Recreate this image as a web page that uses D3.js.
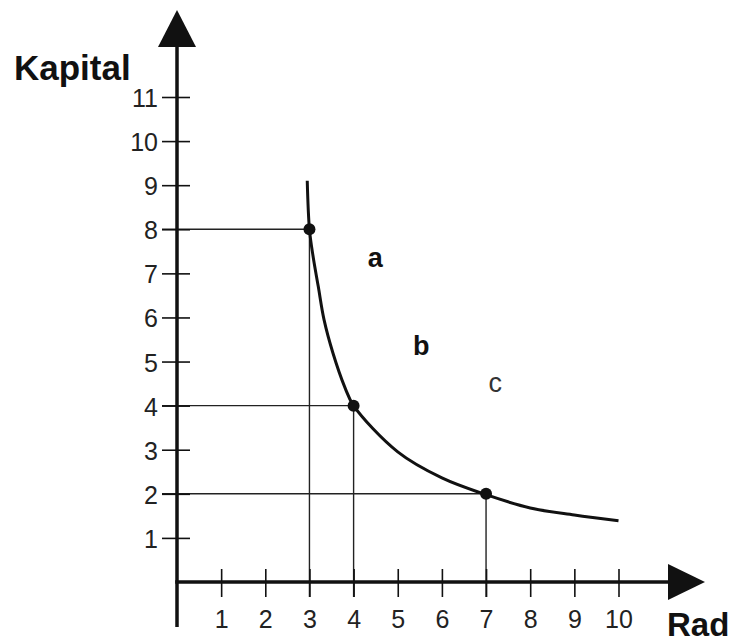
<!DOCTYPE html>
<html>
<head>
<meta charset="utf-8">
<script src="https://cdn.jsdelivr.net/npm/d3@7"></script>
<style>
  html, body { margin: 0; padding: 0; background: #fff; }
  svg { display: block; font-family: "Liberation Sans", Arial, sans-serif; }
</style>
</head>
<body>
<svg id="chart" width="737" height="644"></svg>
<script>
// tick labels
var xTicks = [1, 2, 3, 4, 5, 6, 7, 8, 9, 10];
var yTicks = [1, 2, 3, 4, 5, 6, 7, 8, 9, 10, 11];

// isoquant curve (Rad, Kapital)
var curveRad     = [2.95, 3.0, 3.08, 3.2, 3.33, 3.53, 3.8, 4.0, 5.0, 6.0, 7.0, 8.0, 9.0, 10.0];
var curveKapital = [9.1, 8.0, 7.4, 6.7, 5.95, 5.2, 4.42, 4.0, 2.95, 2.36, 1.98, 1.68, 1.52, 1.39];

// marked combinations
var pointRad     = [3, 4, 7];
var pointKapital = [8, 4, 2];

// letters in the plot
var letterText    = ['a', 'b', 'c'];
var letterRad     = [4.49, 5.53, 7.21];
var letterKapital = [7.14, 5.14, 4.32];

var svg = d3.select('#chart');

var x = d3.scaleLinear().domain([0, 10]).range([177, 618.5]);
var y = d3.scaleLinear().domain([0, 11]).range([582, 97]);

var ink = '#111';

// guide lines from the axes to each point
var guides = svg.append('g');
pointRad.forEach(function(r, i){
    guides.append('line')
        .attr('x1', x(0) - 15).attr('x2', x(r))
        .attr('y1', y(pointKapital[i])).attr('y2', y(pointKapital[i]))
        .style('stroke', '#222').style('stroke-width', 1.4);
    guides.append('line')
        .attr('x1', x(r)).attr('x2', x(r))
        .attr('y1', y(pointKapital[i])).attr('y2', y(0) + 15)
        .style('stroke', '#222').style('stroke-width', 1.4);
});

// y axis
var yAxis = svg.append('g')
    .attr('transform', 'translate(' + x(0) + ',0)')
    .call(d3.axisLeft(y).tickValues(yTicks).tickSize(0).tickPadding(0));
yAxis.select('.domain').remove();
yAxis.selectAll('.tick line')
    .attr('x1', -15).attr('x2', 13)
    .style('stroke', ink).style('stroke-width', 1.6);
yAxis.selectAll('.tick text')
    .attr('x', -19).attr('dy', '0.38em')
    .style('font-size', '25px').style('fill', '#222')
    .style('font-family', '"Liberation Sans", Arial, sans-serif');

// x axis
var xAxis = svg.append('g')
    .attr('transform', 'translate(0,' + y(0) + ')')
    .call(d3.axisBottom(x).tickValues(xTicks).tickSize(0).tickPadding(0));
xAxis.select('.domain').remove();
xAxis.selectAll('.tick line')
    .attr('y1', -13).attr('y2', 15)
    .style('stroke', ink).style('stroke-width', 1.6);
xAxis.selectAll('.tick text')
    .attr('y', 46).attr('dy', 0)
    .style('font-size', '25px').style('fill', '#222')
    .style('font-family', '"Liberation Sans", Arial, sans-serif');

// axis lines with arrows
svg.append('line')
    .attr('x1', x(0)).attr('x2', x(0))
    .attr('y1', 45).attr('y2', 627)
    .style('stroke', ink).style('stroke-width', 3.5);
svg.append('line')
    .attr('x1', x(0) - 1.75).attr('x2', 670)
    .attr('y1', y(0)).attr('y2', y(0))
    .style('stroke', ink).style('stroke-width', 3.5);
svg.append('path')
    .attr('d', 'M' + x(0) + ',10 L' + (x(0) + 19) + ',47 L' + (x(0) - 19) + ',47 Z')
    .style('fill', ink);
svg.append('path')
    .attr('d', 'M705,' + y(0) + ' L668,' + (y(0) - 18) + ' L668,' + (y(0) + 18) + ' Z')
    .style('fill', ink);

// curve
var line = d3.line()
    .x(function(d){ return x(d[0]); })
    .y(function(d){ return y(d[1]); })
    .curve(d3.curveCatmullRom.alpha(0.5));
svg.append('path')
    .datum(d3.zip(curveRad, curveKapital))
    .attr('d', line)
    .style('fill', 'none').style('stroke', ink).style('stroke-width', 3);

// points
svg.selectAll('circle.pt')
    .data(d3.zip(pointRad, pointKapital))
    .enter()
    .append('circle')
    .attr('cx', function(d){ return x(d[0]); })
    .attr('cy', function(d){ return y(d[1]); })
    .attr('r', 6)
    .style('fill', ink);

// letters
svg.selectAll('text.letter')
    .data(d3.zip(letterText, letterRad, letterKapital))
    .enter()
    .append('text')
    .attr('x', function(d){ return x(d[1]); })
    .attr('y', function(d){ return y(d[2]); })
    .attr('text-anchor', 'middle')
    .style('font-size', '27px')
    .style('font-weight', function(d, i){ return i < 2 ? 'bold' : 'normal'; })
    .style('fill', function(d, i){ return i < 2 ? '#111' : '#333'; })
    .text(function(d){ return d[0]; });

// axis titles
svg.append('text')
    .attr('x', 14).attr('y', 80)
    .style('font-size', '35px').style('font-weight', 'bold').style('fill', ink)
    .text('Kapital');
svg.append('text')
    .attr('x', 667).attr('y', 636)
    .style('font-size', '33px').style('font-weight', 'bold').style('fill', ink)
    .text('Rad');
</script>
</body>
</html>
